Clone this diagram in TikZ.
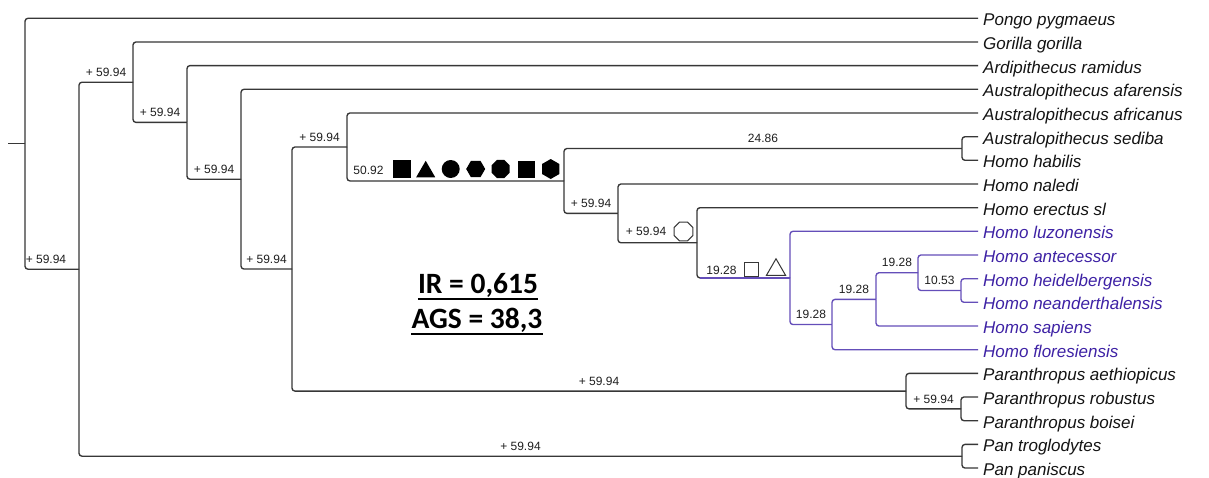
\documentclass[tikz,border=0pt]{standalone}
\usepackage{fontspec}
\setmainfont{Liberation Sans}
\newfontfamily\calfont{Carlito}
\usetikzlibrary{shapes.geometric,calc}
\definecolor{ln}{RGB}{55,55,55}
\definecolor{pl}{RGB}{100,78,185}
\definecolor{pt}{RGB}{62,34,165}
\begin{document}
\begin{tikzpicture}[x=1pt,y=-1pt,
  br/.style={draw=ln, line width=1.35pt, rounded corners=3pt},
  pbr/.style={br, draw=pl},
  tax/.style={anchor=west, inner xsep=5pt, inner ysep=0pt, text height=15pt, text depth=0pt, font=\fontsize{17}{20}\selectfont\itshape, text=black!92},
  ptax/.style={tax, text=pt},
  lab/.style={anchor=south, inner sep=0pt, yshift=5.5pt, font=\fontsize{12}{14}\selectfont, text=black!88},
  labt/.style={inner sep=0pt, font=\fontsize{12}{14}\selectfont, text=black!88},
  fsym/.style={fill=black, draw=none, inner sep=0pt, outer sep=0pt},
  osym/.style={draw=ln, line width=1pt, fill=none, inner sep=0pt, outer sep=0pt},
  irs/.style={inner sep=0pt, font=\fontsize{29.5}{34}\selectfont\calfont\bfseries, text=black}]
\useasboundingbox (0,0) rectangle (1209,477);
\fill[white] (0,0) rectangle (1209,477);
% internal nodes
\coordinate (stub) at (8,143.75);
\coordinate (root) at (25,143.75);
\coordinate (nHom) at (79,269.2);
\coordinate (nGor) at (133,82.2);
\coordinate (nArd) at (187,122.4);
\coordinate (nAfa) at (241,179.2);
\coordinate (nAus) at (292,269.05);
\coordinate (nAfr) at (347,147.0);
\coordinate (nHab) at (564,180.95);
\coordinate (nSH) at (962,148.5);
\coordinate (nNal) at (618,213.4);
\coordinate (nEr) at (697,242.8);
\coordinate (nPur) at (790,277.9);
\coordinate (nFl) at (832,324.55);
\coordinate (nSap) at (876,299.4);
\coordinate (nAHN) at (918,272.75);
\coordinate (nHN) at (961,290.5);
\coordinate (nPar) at (906,391.1);
\coordinate (nRB) at (961,408.85);
\coordinate (nPan) at (962,456.2);
% tips
\node[tax] (t0) at (978,18.3) {Pongo pygmaeus};
\node[tax] (t1) at (978,42.0) {Gorilla gorilla};
\node[tax] (t2) at (978,65.6) {Ardipithecus ramidus};
\node[tax] (t3) at (978,89.3) {Australopithecus afarensis};
\node[tax] (t4) at (978,113.0) {Australopithecus africanus};
\node[tax] (t5) at (978,136.7) {Australopithecus sediba};
\node[tax] (t6) at (978,160.3) {Homo habilis};
\node[tax] (t7) at (978,184.0) {Homo naledi};
\node[tax] (t8) at (978,207.7) {Homo erectus sl};
\node[ptax] (t9) at (978,231.3) {Homo luzonensis};
\node[ptax] (t10) at (978,255.0) {Homo antecessor};
\node[ptax] (t11) at (978,278.7) {Homo heidelbergensis};
\node[ptax] (t12) at (978,302.3) {Homo neanderthalensis};
\node[ptax] (t13) at (978,326.0) {Homo sapiens};
\node[ptax] (t14) at (978,349.7) {Homo floresiensis};
\node[tax] (t15) at (978,373.4) {Paranthropus aethiopicus};
\node[tax] (t16) at (978,397.0) {Paranthropus robustus};
\node[tax] (t17) at (978,420.7) {Paranthropus boisei};
\node[tax] (t18) at (978,444.4) {Pan troglodytes};
\node[tax] (t19) at (978,468.0) {Pan paniscus};
% branches
\draw[br] (stub) -- (root);
\draw[br] (root) |- (t0.west);
\draw[br] (root) |- (nHom);
\draw[br] (nHom) |- (nGor);
\draw[br] (nHom) |- (nPan);
\draw[br] (nGor) |- (t1.west);
\draw[br] (nGor) |- (nArd);
\draw[br] (nArd) |- (t2.west);
\draw[br] (nArd) |- (nAfa);
\draw[br] (nAfa) |- (t3.west);
\draw[br] (nAfa) |- (nAus);
\draw[br] (nAus) |- (nAfr);
\draw[br] (nAus) |- (nPar);
\draw[br] (nAfr) |- (t4.west);
\draw[br] (nAfr) |- (nHab);
\draw[br] (nHab) |- (nSH);
\draw[br] (nHab) |- (nNal);
\draw[br] (nSH) |- (t5.west);
\draw[br] (nSH) |- (t6.west);
\draw[br] (nNal) |- (t7.west);
\draw[br] (nNal) |- (nEr);
\draw[br] (nEr) |- (t8.west);
\draw[br] (nEr) |- (nPur);
\draw[pbr] ($(nEr|-nPur)+(3,0)$) -- (nPur);
\draw[pbr] (nPur) |- (t9.west);
\draw[pbr] (nPur) |- (nFl);
\draw[pbr] (nFl) |- (nSap);
\draw[pbr] (nFl) |- (t14.west);
\draw[pbr] (nSap) |- (nAHN);
\draw[pbr] (nSap) |- (t13.west);
\draw[pbr] (nAHN) |- (t10.west);
\draw[pbr] (nAHN) |- (nHN);
\draw[pbr] (nHN) |- (t11.west);
\draw[pbr] (nHN) |- (t12.west);
\draw[br] (nPar) |- (t15.west);
\draw[br] (nPar) |- (nRB);
\draw[br] (nRB) |- (t16.west);
\draw[br] (nRB) |- (t17.west);
\draw[br] (nPan) |- (t18.west);
\draw[br] (nPan) |- (t19.west);
% branch labels
\node[lab] (l1) at ($(root|-nHom)!.5!(nHom)+(-6,0)$) {+ 59.94};
\node[lab] (l2) at ($(nHom|-nGor)!.5!(nGor)$) {+ 59.94};
\node[lab] (l3) at ($(nGor|-nArd)!.5!(nArd)$) {+ 59.94};
\node[lab] (l4) at ($(nArd|-nAfa)!.5!(nAfa)$) {+ 59.94};
\node[lab] (l5) at ($(nAfa|-nAus)!.5!(nAus)$) {+ 59.94};
\node[lab] (l6) at ($(nAus|-nAfr)!.5!(nAfr)$) {+ 59.94};
\node[lab] (l7) at ($(nAus|-nPar)!.5!(nPar)$) {+ 59.94};
\node[lab] (l8) at ($(nHom|-nPan)!.5!(nPan)$) {+ 59.94};
\node[lab] (l9) at ($(nPar|-nRB)!.5!(nRB)$) {+ 59.94};
\node[lab] (l10) at ($(nHab|-nSH)!.5!(nSH)$) {24.86};
\node[lab] (l11) at ($(nHab|-nNal)!.5!(nNal)$) {+ 59.94};
\node[lab] (l12) at ($(nPur|-nFl)!.5!(nFl)$) {19.28};
\node[lab] (l13) at ($(nFl|-nSap)!.5!(nSap)$) {19.28};
\node[lab] (l14) at ($(nSap|-nAHN)!.5!(nAHN)$) {19.28};
\node[lab] (l15) at ($(nAHN|-nHN)!.5!(nHN)$) {10.53};
% compound labels with symbols
\node[labt] (l16) at (368.5,170.5) {50.92};
\node[fsym, rectangle, minimum size=18pt] (s1) at (401.7,169) {};
\node[fsym, regular polygon, regular polygon sides=3, minimum size=22pt] (s2) at (425.7,171.75) {};
\node[fsym, circle, minimum size=18pt] (s3) at (450.7,169) {};
\node[fsym, regular polygon, regular polygon sides=6, minimum size=19pt] (s4) at (475.7,169) {};
\node[fsym, regular polygon, regular polygon sides=8, minimum size=19.5pt] (s5) at (500.7,169) {};
\node[fsym, rectangle, minimum size=17pt] (s6) at (526.3,169) {};
\node[fsym, regular polygon, regular polygon sides=6, rotate=30, minimum size=20pt] (s7) at (550.7,169) {};
\node[labt] (l17) at (646,231.7) {+ 59.94};
\node[osym, regular polygon, regular polygon sides=8, minimum size=20.5pt] (s8) at (683.5,231.5) {};
\node[labt] (l18) at (721.5,270) {19.28};
\node[osym, rectangle, minimum size=14pt] (s9) at (751,269) {};
\node[osym, regular polygon, regular polygon sides=3, minimum size=22pt] (s10) at (776,269.75) {};
% indices
\node[irs, anchor=base] (ir1) at (478,293.3) {IR = 0,615};
\node[irs, anchor=base] (ir2) at (477,328.3) {AGS = 38,3};
\draw[line width=2pt] ([yshift=-6pt]ir1.base west) -- ([yshift=-6pt]ir1.base east);
\draw[line width=2pt] ([yshift=-6pt]ir2.base west) -- ([yshift=-6pt]ir2.base east);
\end{tikzpicture}
\end{document}
